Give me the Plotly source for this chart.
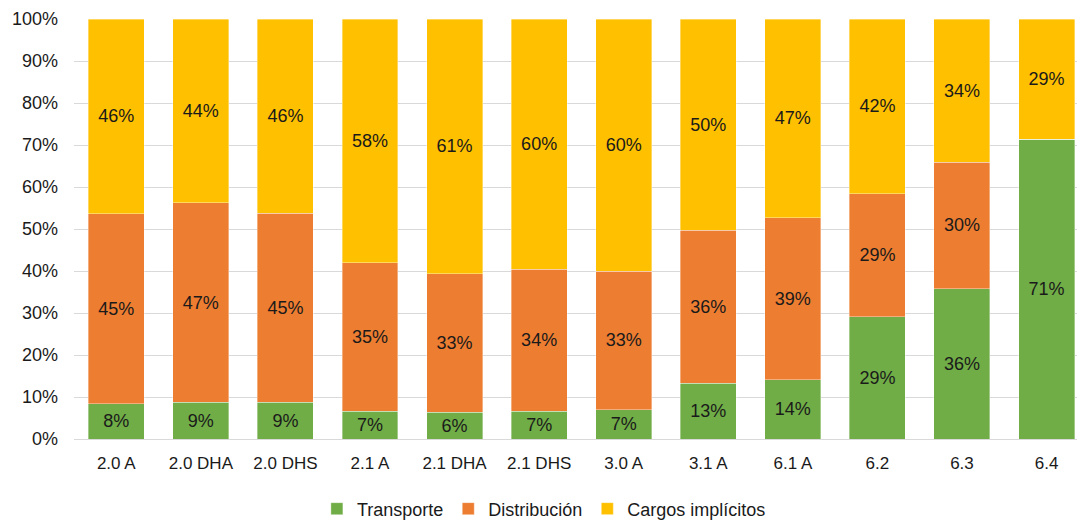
import plotly.graph_objects as go

# Tariff groups on the category axis
categories = ["2.0 A", "2.0 DHA", "2.0 DHS", "2.1 A", "2.1 DHA", "2.1 DHS",
              "3.0 A", "3.1 A", "6.1 A", "6.2", "6.3", "6.4"]

# Share of each cost component (%)
transporte = [8.4, 8.8, 8.8, 6.6, 6.4, 6.6, 7.0, 13.3, 14.1, 29.1, 35.8, 71.4]
distribucion = [45.2, 47.4, 44.9, 35.4, 32.9, 33.8, 33.0, 36.4, 38.6, 29.3, 30.1, 0.0]
cargos = [46.4, 43.8, 46.3, 58.0, 60.7, 59.6, 60.0, 50.3, 47.3, 41.6, 34.1, 28.6]

y_ticks = list(range(0, 101, 10))
y_tick_labels = [f"{v}%" for v in y_ticks]

FONT = "Liberation Sans, Arial, sans-serif"


def labels(values):
    return [f"{v:.0f}%" if v > 0 else "" for v in values]


series = [
    ("Transporte", transporte, "#70AD47"),
    ("Distribución", distribucion, "#ED7D31"),
    ("Cargos implícitos", cargos, "#FFC000"),
]

fig = go.Figure()
for name, values, color in series:
    fig.add_trace(go.Bar(
        x=categories,
        y=values,
        name=name,
        marker=dict(color=color, line=dict(width=0.6, color="rgba(255,255,255,0.6)")),
        text=labels(values),
        textposition="inside",
        insidetextanchor="middle",
        textangle=0,
        textfont=dict(family=FONT, size=18, color="#1a1a1a"),
        constraintext="none",
        hoverinfo="skip",
    ))

fig.update_layout(
    barmode="stack",
    bargap=0.338,
    width=1077,
    height=522,
    margin=dict(l=74, r=0, t=19, b=83),
    paper_bgcolor="white",
    plot_bgcolor="white",
    font=dict(family=FONT, size=18, color="#1a1a1a"),
    uniformtext=dict(minsize=18, mode="show"),
    showlegend=True,
    legend=dict(
        orientation="h",
        xref="container",
        yref="container",
        x=0.505,
        xanchor="center",
        y=0.025,
        yanchor="middle",
        font=dict(family=FONT, size=18, color="#1a1a1a"),
        itemwidth=30,
        traceorder="normal",
        bgcolor="rgba(0,0,0,0)",
    ),
    xaxis=dict(
        type="category",
        range=[-0.5, 11.36],
        showgrid=False,
        showline=True,
        linecolor="#D9D9D9",
        linewidth=1,
        ticks="",
        tickfont=dict(family=FONT, size=17, color="#1a1a1a"),
        ticklabelstandoff=9,
    ),
    yaxis=dict(
        range=[0, 100],
        tickvals=y_ticks,
        ticktext=y_tick_labels,
        showgrid=True,
        gridcolor="#D9D9D9",
        gridwidth=1,
        zeroline=False,
        showline=False,
        ticks="",
        tickfont=dict(family=FONT, size=18, color="#1a1a1a"),
        ticklabelstandoff=15,
    ),
)

fig.write_html("out.html")
